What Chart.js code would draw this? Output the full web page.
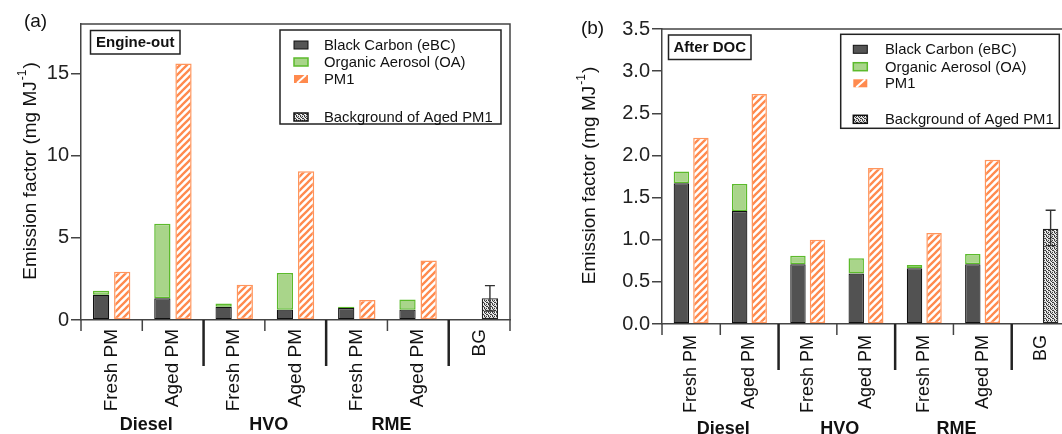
<!DOCTYPE html>
<html>
<head>
<meta charset="utf-8">
<script src="https://cdn.jsdelivr.net/npm/chart.js@4.4.1/dist/chart.umd.min.js"></script>
<style>
  body { margin: 0; background: #fff; width: 1062px; height: 434px; position: relative; overflow: hidden; }
  #chartA { position: absolute; left: 0; top: 0; }
  #chartB { position: absolute; left: 530px; top: 0; }
</style>
</head>
<body>
<canvas id="chartA" width="520" height="434"></canvas>
<canvas id="chartB" width="550" height="434"></canvas>
<script>
const categories = ['Fresh PM', 'Aged PM', 'Fresh PM', 'Aged PM', 'Fresh PM', 'Aged PM', 'BG'];
const fuels = ['Diesel', 'HVO', 'RME'];
const seriesNames = ['Black Carbon (eBC)', 'Organic Aerosol (OA)', 'PM1', 'Background of Aged PM1'];

// (a) engine-out, mg MJ-1
const bcEngine = [1.54, 1.32, 0.81, 0.63, 0.73, 0.63, null];
const oaEngine = [0.24, 4.53, 0.20, 2.23, 0.08, 0.61, null];
const pm1Engine = [2.94, 15.6, 2.15, 9.05, 1.22, 3.62, null];
const bgEngine = [null, null, null, null, null, null, 1.32];
const bgErrEngine = [0.55, 2.09];
const yTicksEngine = [0, 5, 10, 15];

// (b) after DOC, mg MJ-1
const bcDoc = [1.67, 1.34, 0.71, 0.60, 0.66, 0.71, null];
const oaDoc = [0.14, 0.32, 0.10, 0.18, 0.04, 0.12, null];
const pm1Doc = [2.21, 2.73, 1.00, 1.85, 1.08, 1.95, null];
const bgDoc = [null, null, null, null, null, null, 1.13];
const bgErrDoc = [0.93, 1.35];
const yTicksDoc = [0, 0.5, 1, 1.5, 2, 2.5, 3, 3.5];

const FONT = '"Liberation Sans", Arial, sans-serif';
const ORANGE = '#ff8a4e';

function hatchPattern() {
  const n = 7;
  const c = document.createElement('canvas');
  c.width = n; c.height = n;
  const g = c.getContext('2d');
  g.fillStyle = '#fff'; g.fillRect(0, 0, n, n);
  g.strokeStyle = ORANGE; g.lineWidth = 2.3;
  g.beginPath();
  g.moveTo(-1, n + 1); g.lineTo(n + 1, -1);
  g.moveTo(-1, 1); g.lineTo(1, -1);
  g.moveTo(n - 1, n + 1); g.lineTo(n + 1, n - 1);
  g.stroke();
  return g.createPattern(c, 'repeat');
}

function dotPattern() {
  const c = document.createElement('canvas');
  c.width = 4; c.height = 4;
  const g = c.getContext('2d');
  g.fillStyle = '#d8d8d8'; g.fillRect(0, 0, 4, 4);
  g.fillStyle = '#3a3a3a';
  [[0, 0], [2, 0], [1, 1], [3, 2], [0, 3], [2, 2]].forEach(p => g.fillRect(p[0], p[1], 1, 1));
  g.fillStyle = '#fff';
  [[1, 2], [3, 0]].forEach(p => g.fillRect(p[0], p[1], 1, 1));
  return g.createPattern(c, 'repeat');
}

const hatch = hatchPattern();
const dots = dotPattern();

function drawYTitle(ctx, x, y, size) {
  const main = 'Emission factor (mg MJ', sup = '-1', end = ')';
  ctx.save();
  ctx.translate(x, y);
  ctx.rotate(-Math.PI / 2);
  ctx.fillStyle = '#111';
  ctx.textBaseline = 'middle';
  ctx.textAlign = 'left';
  ctx.font = size + 'px ' + FONT;
  const w1 = ctx.measureText(main).width, w3 = ctx.measureText(end).width;
  ctx.font = Math.round(size * 0.62) + 'px ' + FONT;
  const w2 = ctx.measureText(sup).width;
  let sx = -(w1 + w2 + w3) / 2;
  ctx.font = size + 'px ' + FONT;
  ctx.fillText(main, sx, 0);
  ctx.font = Math.round(size * 0.62) + 'px ' + FONT;
  ctx.fillText(sup, sx + w1 + 1, -size * 0.42);
  ctx.font = size + 'px ' + FONT;
  ctx.fillText(end, sx + w1 + w2 + 2, 0);
  ctx.restore();
}

function drawLegend(ctx, L) {
  ctx.save();
  ctx.strokeStyle = '#222'; ctx.lineWidth = 1.5;
  ctx.strokeRect(L.box[0], L.box[1], L.box[2], L.box[3]);
  ctx.font = '14.8px ' + FONT;
  ctx.fillStyle = '#111';
  ctx.textBaseline = 'middle';
  const sw = 14, sh = 8;
  L.rows.forEach((ry, i) => {
    const sx = L.sx, sy = ry - sh / 2;
    if (i === 0) {
      ctx.fillStyle = '#555'; ctx.fillRect(sx, sy, sw, sh);
      ctx.strokeStyle = '#111'; ctx.lineWidth = 1; ctx.strokeRect(sx, sy, sw, sh);
    } else if (i === 1) {
      ctx.fillStyle = '#a9d58a'; ctx.fillRect(sx, sy, sw, sh);
      ctx.strokeStyle = '#5cba2c'; ctx.lineWidth = 1.5; ctx.strokeRect(sx, sy, sw, sh);
    } else if (i === 2) {
      ctx.fillStyle = ORANGE; ctx.fillRect(sx, sy, sw, sh);
      ctx.strokeStyle = '#fff'; ctx.lineWidth = 2;
      ctx.beginPath(); ctx.moveTo(sx + 3, sy + sh); ctx.lineTo(sx + sw - 2, sy); ctx.stroke();
    } else {
      ctx.fillStyle = dots; ctx.fillRect(sx, sy, sw, sh);
      ctx.strokeStyle = '#111'; ctx.lineWidth = 1.5; ctx.strokeRect(sx, sy, sw, sh);
    }
    ctx.fillStyle = '#111';
    ctx.fillText(seriesNames[i], L.tx, ry + 1);
  });
  ctx.restore();
}

const decorPlugin = {
  id: 'decor',
  afterDatasetsDraw(chart, args, o) {
    const ctx = chart.ctx, y = chart.scales.y;
    const bar = chart.getDatasetMeta(3).data[6];
    const cx = bar.x, t = y.getPixelForValue(o.err[1]), b = y.getPixelForValue(o.err[0]);
    ctx.save();
    ctx.strokeStyle = '#333'; ctx.lineWidth = 1.4;
    ctx.beginPath();
    ctx.moveTo(cx, t); ctx.lineTo(cx, b);
    ctx.moveTo(cx - 5, t); ctx.lineTo(cx + 5, t);
    ctx.moveTo(cx - 5, b); ctx.lineTo(cx + 5, b);
    ctx.stroke();
    ctx.restore();
  },
  afterDraw(chart, args, o) {
    const ctx = chart.ctx, a = chart.chartArea, x = chart.scales.x;
    ctx.save();
    // frame top + right
    ctx.strokeStyle = '#444'; ctx.lineWidth = 1.5;
    ctx.beginPath();
    ctx.moveTo(a.left, a.top); ctx.lineTo(a.right, a.top); ctx.lineTo(a.right, a.bottom);
    ctx.stroke();
    // category separators
    const w = x.getPixelForValue(1) - x.getPixelForValue(0);
    for (let i = 0; i <= categories.length; i++) {
      const px = x.getPixelForValue(0) - w / 2 + i * w;
      const major = i === 2 || i === 4 || i === 6;
      ctx.strokeStyle = major ? '#222' : '#444';
      ctx.lineWidth = major ? 2.5 : 1.5;
      ctx.beginPath();
      ctx.moveTo(px, a.bottom); ctx.lineTo(px, a.bottom + (major ? 46 : 11));
      ctx.stroke();
    }
    // fuel group labels
    ctx.fillStyle = '#111';
    ctx.font = 'bold 18px ' + FONT;
    ctx.textAlign = 'center'; ctx.textBaseline = 'middle';
    fuels.forEach((f, i) => {
      const px = x.getPixelForValue(0) - w / 2 + (2 * i + 1) * w + o.groupDx;
      ctx.fillText(f, px, o.groupY);
    });
    // panel tag
    ctx.font = '19px ' + FONT;
    ctx.fillText(o.tag, o.tagXY[0], o.tagXY[1]);
    // condition box
    ctx.strokeStyle = '#222'; ctx.lineWidth = 1.5;
    const bx = o.condBox;
    ctx.strokeRect(bx[0], bx[1], bx[2], bx[3]);
    ctx.font = 'bold 15px ' + FONT;
    ctx.fillText(o.cond, bx[0] + bx[2] / 2, bx[1] + bx[3] / 2 + 1);
    ctx.restore();
    drawLegend(ctx, o.legend);
    drawYTitle(ctx, o.titleX, (a.top + a.bottom) / 2, 19);
  }
};

function makePanel(id, bc, oa, pm1, bg, yMax, yTicks, fmt, geom, decor) {
  return new Chart(document.getElementById(id), {
    type: 'bar',
    data: {
      labels: categories,
      datasets: [
        { label: seriesNames[0], data: bc, stack: 'comp', backgroundColor: '#525252', borderColor: '#111', borderWidth: 1.2, borderSkipped: false },
        { label: seriesNames[1], data: oa, stack: 'comp', backgroundColor: '#a9d58a', borderColor: '#5cba2c', borderWidth: 1.5, borderSkipped: false },
        { label: seriesNames[2], data: pm1, stack: 'total', backgroundColor: hatch, borderColor: '#ff955c', borderWidth: 1.5, borderSkipped: false },
        { label: seriesNames[3], data: bg, stack: 'total', backgroundColor: dots, borderColor: '#222', borderWidth: 1.2, borderSkipped: false }
      ]
    },
    options: {
      responsive: false,
      animation: false,
      devicePixelRatio: 1,
      layout: { padding: geom.padding },
      datasets: { bar: { categoryPercentage: geom.catPct, barPercentage: geom.barPct } },
      scales: {
        x: {
          stacked: true,
          grid: { drawOnChartArea: false, drawTicks: false },
          border: { display: true, color: '#444', width: 1.5 },
          ticks: { autoSkip: false, minRotation: 90, maxRotation: 90, padding: geom.xPad, color: '#111', font: { family: FONT, size: geom.xFont } },
          afterFit: s => { s.height = geom.xHeight; }
        },
        y: {
          stacked: true, min: 0, max: yMax,
          afterBuildTicks: s => { s.ticks = yTicks.map(v => ({ value: v })); },
          grid: { drawOnChartArea: false, drawTicks: true, tickLength: 10, color: '#444', lineWidth: 1.5 },
          border: { display: true, color: '#444', width: 1.5 },
          ticks: { padding: 2, color: '#222', font: { family: FONT, size: 20 }, callback: v => fmt(v) },
          afterFit: s => { s.width = geom.yWidth; }
        }
      },
      plugins: { legend: { display: false }, tooltip: { enabled: false }, decor: decor }
    },
    plugins: [decorPlugin]
  });
}

makePanel('chartA', bcEngine, oaEngine, pm1Engine, bgEngine, 18, yTicksEngine, v => String(v),
  { padding: { left: 0, top: 24, right: 10, bottom: 0 }, catPct: 0.69, barPct: 0.77, xPad: 9, xFont: 19, xHeight: 114, yWidth: 81 },
  { err: bgErrEngine, tag: '(a)', tagXY: [35.5, 22], cond: 'Engine-out', condBox: [90.5, 30.5, 89.5, 23.5],
    groupY: 425.5, groupDx: 4, titleX: 31,
    legend: { box: [280, 30, 221, 94], sx: 294, tx: 324, rows: [45, 62, 79, 117] } });

makePanel('chartB', bcDoc, oaDoc, pm1Doc, bgDoc, 3.5, yTicksDoc, v => v.toFixed(1),
  { padding: { left: 0, top: 29, right: 10, bottom: 0 }, catPct: 0.67, barPct: 0.79, xPad: 11, xFont: 18, xHeight: 110, yWidth: 132 },
  { err: bgErrDoc, tag: '(b)', tagXY: [62.5, 29], cond: 'After DOC', condBox: [138.5, 35, 82.5, 24.5],
    groupY: 429.5, groupDx: 3, titleX: 59.5,
    legend: { box: [310.7, 34.3, 218.6, 94], sx: 323.3, tx: 355, rows: [49.3, 66.7, 83.3, 119.3] } });
</script>
</body>
</html>
